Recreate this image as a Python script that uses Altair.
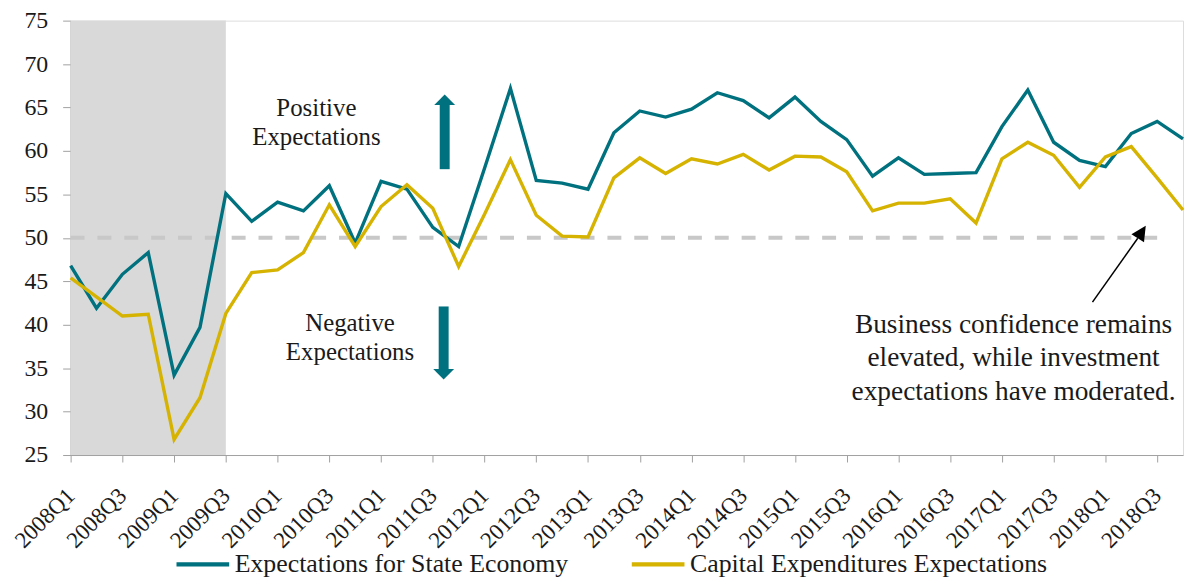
import json
import altair as alt
import pandas as pd

quarters = [f"{y}Q{q}" for y in range(2008, 2019) for q in range(1, 5)]

state_economy = [46.8, 41.9, 45.8, 48.3, 34.2, 39.7, 55.1, 51.9, 54.1, 53.1,
                 56.0, 49.4, 56.5, 55.6, 51.2, 49.0, 58.0, 67.2, 56.6, 56.3,
                 55.6, 62.1, 64.6, 63.9, 64.8, 66.7, 65.8, 63.8, 66.2, 63.4,
                 61.3, 57.1, 59.2, 57.3, 57.4, 57.5, 62.8, 67.0, 61.0, 58.9,
                 58.2, 62.0, 63.4, 61.4]
capex = [45.4, 43.2, 41.0, 41.2, 26.8, 31.6, 41.3, 46.0, 46.3, 48.3,
         53.8, 49.0, 53.6, 56.1, 53.4, 46.7, 52.7, 59.0, 52.6, 50.2,
         50.1, 56.9, 59.2, 57.4, 59.1, 58.5, 59.6, 57.8, 59.4, 59.3,
         57.6, 53.1, 54.0, 54.0, 54.5, 51.7, 59.1, 61.0, 59.5, 55.8,
         59.3, 60.5, 56.9, 53.2]
series_names = ["Expectations for State Economy", "Capital Expenditures Expectations"]
colors = ["#00717E", "#D5B300"]

FONT = "Liberation Serif"
TXT = "#1a1a1a"

rows = []
for i, q in enumerate(quarters):
    rows.append({"idx": i, "quarter": q, "value": state_economy[i], "series": series_names[0]})
    rows.append({"idx": i, "quarter": q, "value": capex[i], "series": series_names[1]})
df = pd.DataFrame(rows)

label_expr = "datum.value % 2 == 0 ? " + json.dumps(quarters) + "[datum.value] : ''"

x_scale = alt.Scale(domain=[0, len(quarters) - 1], nice=False, zero=False)
y_scale = alt.Scale(domain=[25, 75], nice=False, zero=False)

x_axis = alt.Axis(values=list(range(len(quarters))), labelExpr=label_expr, labelAngle=-45,
                  labelAlign="right", labelBaseline="middle", labelOverlap=False,
                  labelFlush=False, title=None, grid=False, domainColor="#a0a0a0",
                  tickColor="#a0a0a0", tickSize=7, labelFont=FONT, labelFontSize=23,
                  labelColor=TXT, labelPadding=30)
y_axis = alt.Axis(values=list(range(25, 80, 5)), title=None, grid=False, domainColor="#a0a0a0",
                  tickColor="#a0a0a0", tickSize=8, labelFont=FONT, labelFontSize=24,
                  labelColor=TXT, labelPadding=15, labelFlush=False)

# recession shading
rec = pd.DataFrame({"x": [quarters.index("2008Q1")], "x2": [quarters.index("2009Q3")],
                    "y": [25], "y2": [75]})
shade = alt.Chart(rec).mark_rect(color="#d9d9d9").encode(
    x=alt.X("x:Q", scale=x_scale, axis=x_axis), x2="x2:Q",
    y=alt.Y("y:Q", scale=y_scale, axis=y_axis), y2="y2:Q")

ref = pd.DataFrame({"x": [0], "x2": [quarters.index("2018Q3")], "y": [50]})
dash = alt.Chart(ref).mark_rule(color="#c8c8c8", strokeWidth=4, strokeDash=[14, 13]).encode(
    x=alt.X("x:Q", scale=x_scale), x2="x2:Q", y=alt.Y("y:Q", scale=y_scale))

lines = alt.Chart(df).mark_line(strokeWidth=3.4).encode(
    x=alt.X("idx:Q", scale=x_scale),
    y=alt.Y("value:Q", scale=y_scale),
    color=alt.Color("series:N", scale=alt.Scale(domain=series_names, range=colors),
                    legend=alt.Legend(orient="none", legendX=104, legendY=518,
                                      direction="horizontal", title=None,
                                      symbolType="stroke", symbolSize=2809,
                                      symbolStrokeWidth=4.5, labelFont=FONT,
                                      labelFontSize=26, labelColor=TXT, labelLimit=0,
                                      columnPadding=54, labelOffset=3)),
    order="idx:Q")

# thick teal arrows
shafts = pd.DataFrame({"x": [14.46, 14.42], "y": [57.9, 42.1], "y2": [65.3, 34.9]})
shaft = alt.Chart(shafts).mark_rule(color=colors[0], strokeWidth=10).encode(
    x=alt.X("x:Q", scale=x_scale), y=alt.Y("y:Q", scale=y_scale), y2="y2:Q")
heads_up = alt.Chart(pd.DataFrame({"x": [14.46], "y": [65.3]})).mark_point(
    shape="M-1,0L1,0L0,-1Z", filled=True, color=colors[0], opacity=1, size=440).encode(
    x=alt.X("x:Q", scale=x_scale), y=alt.Y("y:Q", scale=y_scale))
heads_dn = alt.Chart(pd.DataFrame({"x": [14.42], "y": [34.9]})).mark_point(
    shape="M-1,0L1,0L0,1Z", filled=True, color=colors[0], opacity=1, size=440).encode(
    x=alt.X("x:Q", scale=x_scale), y=alt.Y("y:Q", scale=y_scale))

# black annotation arrow
arr = pd.DataFrame({"x": [39.5], "y": [42.6], "x2": [41.25], "y2": [49.95]})
arrow_line = alt.Chart(arr).mark_rule(color="#000000", strokeWidth=1.5).encode(
    x=alt.X("x:Q", scale=x_scale), y=alt.Y("y:Q", scale=y_scale), x2="x2:Q", y2="y2:Q")
arrow_head = alt.Chart(pd.DataFrame({"x": [41.25], "y": [49.95]})).mark_point(
    shape="M-0.5,0L0.5,0L0,-1Z", filled=True, color="#000000", opacity=1, size=900,
    angle=32.5).encode(x=alt.X("x:Q", scale=x_scale), y=alt.Y("y:Q", scale=y_scale))

notes = pd.DataFrame({
    "text": ["Positive", "Expectations", "Negative", "Expectations",
             "Business confidence remains", "elevated, while investment",
             "expectations have moderated."],
    "x": [9.5, 9.5, 10.8, 10.8, 36.45, 36.45, 36.45],
    "y": [64.95, 61.64, 40.18, 36.87, 39.95, 36.2, 32.3],
    "size": [25, 25, 25, 25, 27.5, 27.5, 27.5],
})
texts = alt.Chart(notes).mark_text(font=FONT, color=TXT, align="center", baseline="middle").encode(
    x=alt.X("x:Q", scale=x_scale), y=alt.Y("y:Q", scale=y_scale), text="text:N",
    size=alt.Size("size:Q", scale=None, legend=None))

chart = alt.layer(shade, dash, lines, shaft, heads_up, heads_dn, arrow_line, arrow_head, texts).properties(
    width=1119, height=437,
    autosize=alt.AutoSizeParams(type="none"),
    padding={"left": 63, "top": 11, "right": 2, "bottom": 121},
).configure_view(stroke=None).configure(background="white")

chart.save("out.html", embed_options={"renderer": "svg", "actions": False})
